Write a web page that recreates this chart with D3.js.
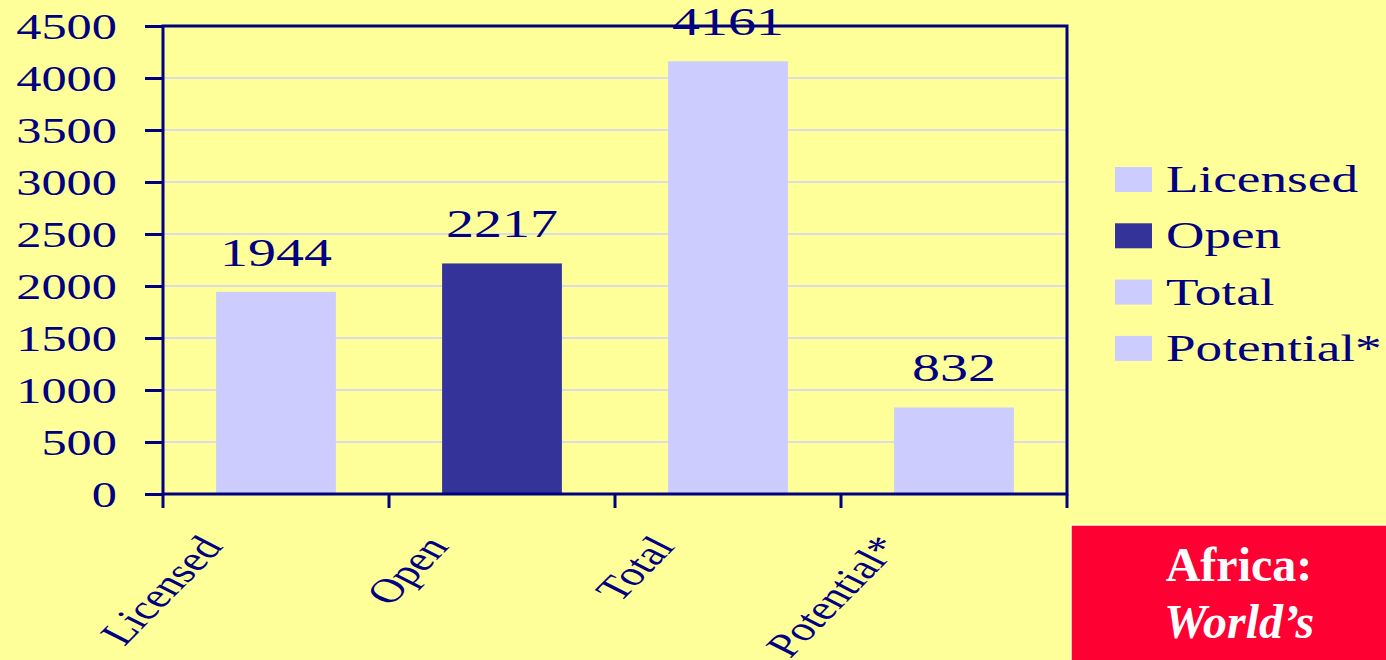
<!DOCTYPE html>
<html>
<head>
<meta charset="utf-8">
<script src="https://cdn.jsdelivr.net/npm/d3@7/dist/d3.min.js"></script>
<style>
  html, body { margin: 0; padding: 0; background: #ffff99; overflow: hidden; }
  svg { display: block; }
  text { font-family: "Liberation Serif", "Times New Roman", serif; fill: #000080; }
</style>
</head>
<body>
<svg id="chart"></svg>
<script>
const categories = ["Licensed", "Open", "Total", "Potential*"];
const values = [1944, 2217, 4161, 832];
const yTicks = [0, 500, 1000, 1500, 2000, 2500, 3000, 3500, 4000, 4500];
const barColors = ["#ccccff", "#333399", "#ccccff", "#ccccff"];
const boxLines = ["Africa:", "World\u2019s"];

const SIZE = { width: 1386, height: 660 };
const MARGIN = { left: 163, top: 26, right: 319, bottom: 166 };
const WIDTH = SIZE.width - MARGIN.left - MARGIN.right;
const HEIGHT = SIZE.height - MARGIN.top - MARGIN.bottom;
const NAVY = "#000080";
const STRETCH = 1.4;

const svg = d3.select("#chart").attr("width", SIZE.width).attr("height", SIZE.height);

svg.append("rect").attr("width", SIZE.width).attr("height", SIZE.height).attr("fill", "#ffff99");

const g = svg.append("g").attr("transform", `translate(${MARGIN.left},${MARGIN.top})`);

const x = d3.scaleBand().domain(categories).range([0, WIDTH]).paddingInner(0.47).paddingOuter(0.235);
const y = d3.scaleLinear().domain([0, 4500]).range([HEIGHT, 0]);

// gridlines
g.append("g")
  .selectAll("line")
  .data(yTicks.filter(t => t > 0 && t < 4500))
  .join("line")
  .attr("x1", 0)
  .attr("x2", WIDTH)
  .attr("y1", d => y(d))
  .attr("y2", d => y(d))
  .attr("stroke", "#dcdce6")
  .attr("stroke-width", 2);

// bars
g.append("g")
  .selectAll("rect")
  .data(values)
  .join("rect")
  .attr("x", (d, i) => x(categories[i]))
  .attr("width", x.bandwidth())
  .attr("y", d => y(d))
  .attr("height", d => HEIGHT - y(d))
  .attr("fill", (d, i) => barColors[i]);

// value labels
g.append("g")
  .selectAll("text")
  .data(values)
  .join("text")
  .attr("text-anchor", "middle")
  .attr("font-size", 40)
  .attr("transform", (d, i) => `translate(${x(categories[i]) + x.bandwidth() / 2},${y(d) - 26}) scale(${STRETCH},1)`)
  .text(d => d);

// y axis
const yAxis = d3.axisLeft(y).tickValues(yTicks).tickFormat(d3.format("d")).tickSize(18).tickSizeOuter(0);
const yG = g.append("g").attr("class", "y-axis").call(yAxis);
yG.select(".domain").remove();
yG.selectAll(".tick line").attr("stroke", NAVY).attr("stroke-width", 3);
yG.selectAll(".tick text")
  .attr("x", null)
  .attr("dy", null)
  .attr("font-size", 36)
  .attr("font-family", "Liberation Serif")
  .attr("fill", NAVY)
  .attr("text-anchor", "end")
  .attr("transform", `translate(-46,12) scale(${STRETCH},1)`);

// x axis (ticks at band boundaries)
const bounds = d3.range(categories.length + 1).map(i => x.range()[0] + i * x.step());
g.append("g")
  .selectAll("line")
  .data(bounds)
  .join("line")
  .attr("x1", d => d)
  .attr("x2", d => d)
  .attr("y1", HEIGHT)
  .attr("y2", HEIGHT + 14)
  .attr("stroke", NAVY)
  .attr("stroke-width", 3);

// frame
g.append("rect")
  .attr("width", WIDTH)
  .attr("height", HEIGHT)
  .attr("fill", "none")
  .attr("stroke", NAVY)
  .attr("stroke-width", 3);

// category labels
g.append("g")
  .selectAll("text")
  .data(categories)
  .join("text")
  .attr("text-anchor", "end")
  .attr("font-size", 34)
  .attr("transform", d => `translate(${x(d) + x.bandwidth() / 2 - 52},${HEIGHT + 53}) scale(${STRETCH},1) rotate(-54.5)`)
  .text(d => d);

// legend
const legend = svg.append("g").attr("transform", "translate(1115,167)");
const item = legend.selectAll("g")
  .data(categories)
  .join("g")
  .attr("transform", (d, i) => `translate(0,${i * 56.3})`);
item.append("rect").attr("width", 37).attr("height", 25).attr("fill", (d, i) => barColors[i]);
item.append("text")
  .attr("font-size", 38)
  .attr("transform", `translate(51,25) scale(${STRETCH},1)`)
  .text(d => d);

// red box
const box = svg.append("g").attr("transform", "translate(1071,525)");
box.append("rect")
  .attr("width", 330)
  .attr("height", 150)
  .attr("fill", "#ff0033")
  .attr("stroke", "#ffffcc")
  .attr("stroke-width", 1.5);
box.selectAll("text")
  .data(boxLines)
  .join("text")
  .attr("x", 168)
  .attr("y", (d, i) => 56 + i * 57)
  .attr("text-anchor", "middle")
  .attr("font-size", 48)
  .attr("font-weight", "bold")
  .attr("font-style", (d, i) => (i === 1 ? "italic" : "normal"))
  .style("fill", "#ffffff")
  .text(d => d);
</script>
</body>
</html>
